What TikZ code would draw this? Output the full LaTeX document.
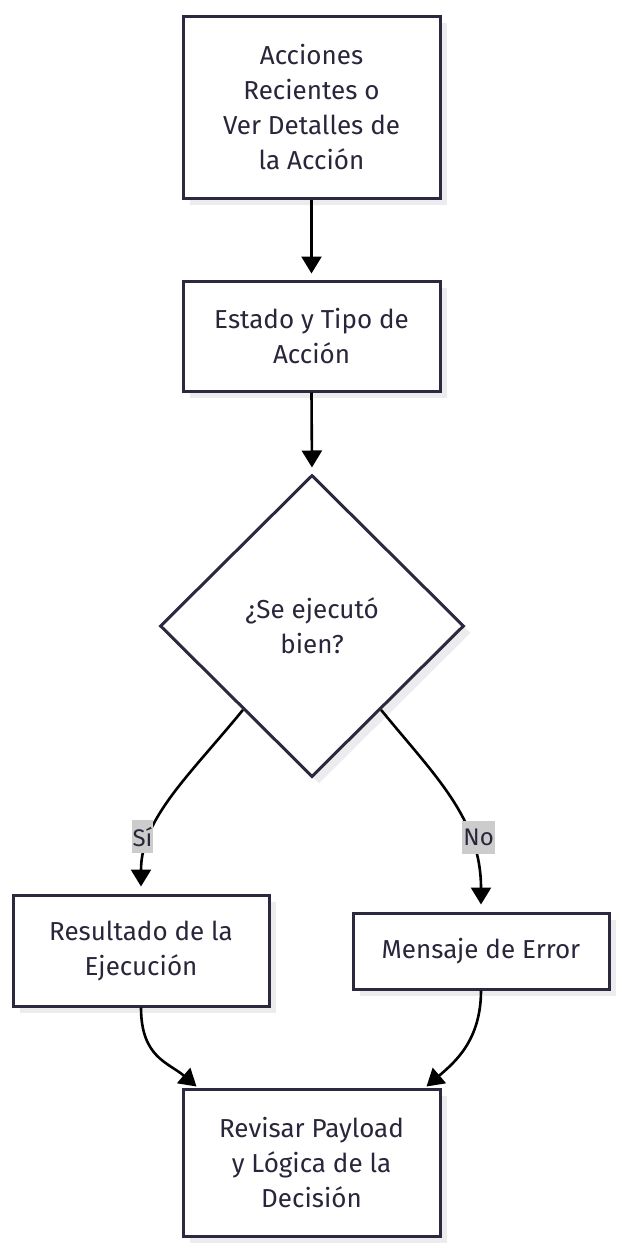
\documentclass[tikz,border=0pt]{standalone}
\usepackage{fontspec}
\setmainfont{Fira Sans}
\usetikzlibrary{arrows.meta,shapes.geometric,shadows}
\definecolor{bordc}{RGB}{42,41,62}
\definecolor{txtc}{RGB}{40,38,58}
\definecolor{shadc}{RGB}{236,236,238}
\definecolor{lblc}{RGB}{204,204,204}
\tikzset{
  box/.style={draw=bordc, line width=3pt, fill=white, rectangle, inner sep=0pt,
    align=center, text=txtc, font=\fontsize{26}{35}\selectfont,
    drop shadow={shadow xshift=7pt, shadow yshift=-7pt, fill=shadc, opacity=1}},
  dia/.style={draw=bordc, line width=3pt, fill=white, diamond, inner sep=0pt,
    align=center, text=txtc, font=\fontsize{26}{35}\selectfont,
    minimum width=304pt, minimum height=302pt,
    drop shadow={shadow xshift=7pt, shadow yshift=-7pt, fill=shadc, opacity=1}},
  edge/.style={draw=black, line width=2.6pt, -{Triangle[length=17pt,width=20pt]}, shorten >=6pt},
  lbl/.style={fill=lblc, text=txtc, font=\fontsize{24}{24}\selectfont, inner sep=1pt, minimum height=33pt},
}
\begin{document}
\begin{tikzpicture}[x=1pt,y=1pt]
\useasboundingbox (0,0) rectangle (623,-1253);
\node[box, minimum width=257pt, minimum height=182pt] (n1) at (311.5,-107) {Acciones\\Recientes o\\Ver Detalles de\\la Acción};
\node[box, minimum width=257pt, minimum height=110pt] (n2) at (311.5,-336) {Estado y Tipo de\\Acción};
\node[dia] (d) at (312,-626) {¿Se ejecutó\\bien?};
\node[box, minimum width=256pt, minimum height=111pt] (r) at (141,-950.5) {Resultado de la\\Ejecución};
\node[box, minimum width=256pt, minimum height=76pt] (m) at (481,-951) {Mensaje de Error};
\node[box, minimum width=257pt, minimum height=147pt] (f) at (311.5,-1162.5) {Revisar Payload\\y Lógica de la\\Decisión};

\draw[edge] (n1.south) -- (n2.north);
\draw[edge] (n2.south) -- (d.north);
\path (d.west) -- (d.south) coordinate[pos=0.55] (dsw);
\path (d.east) -- (d.south) coordinate[pos=0.55] (dse);
\draw[edge, shorten >=7pt] (dsw) .. controls ([xshift=-53pt,yshift=-65pt]dsw) and ([yshift=75pt]r.north) .. (r.north)
  node[lbl, pos=0.72, xshift=-9pt] {Sí};
\draw[edge, shorten >=7pt] (dse) .. controls ([xshift=53pt,yshift=-65pt]dse) and ([yshift=93pt]m.north) .. (m.north)
  node[lbl, pos=0.69, xshift=10pt] {No};
\draw[edge, shorten >=0pt] (r.south) .. controls ([yshift=-50pt]r.south) and ([xshift=-13pt,yshift=25pt]f.north west) .. ([xshift=15pt,yshift=1pt]f.north west);
\draw[edge, shorten >=0pt] (m.south) .. controls ([yshift=-50pt]m.south) and ([xshift=13pt,yshift=25pt]f.north east) .. ([xshift=-15pt,yshift=1pt]f.north east);
\end{tikzpicture}
\end{document}
